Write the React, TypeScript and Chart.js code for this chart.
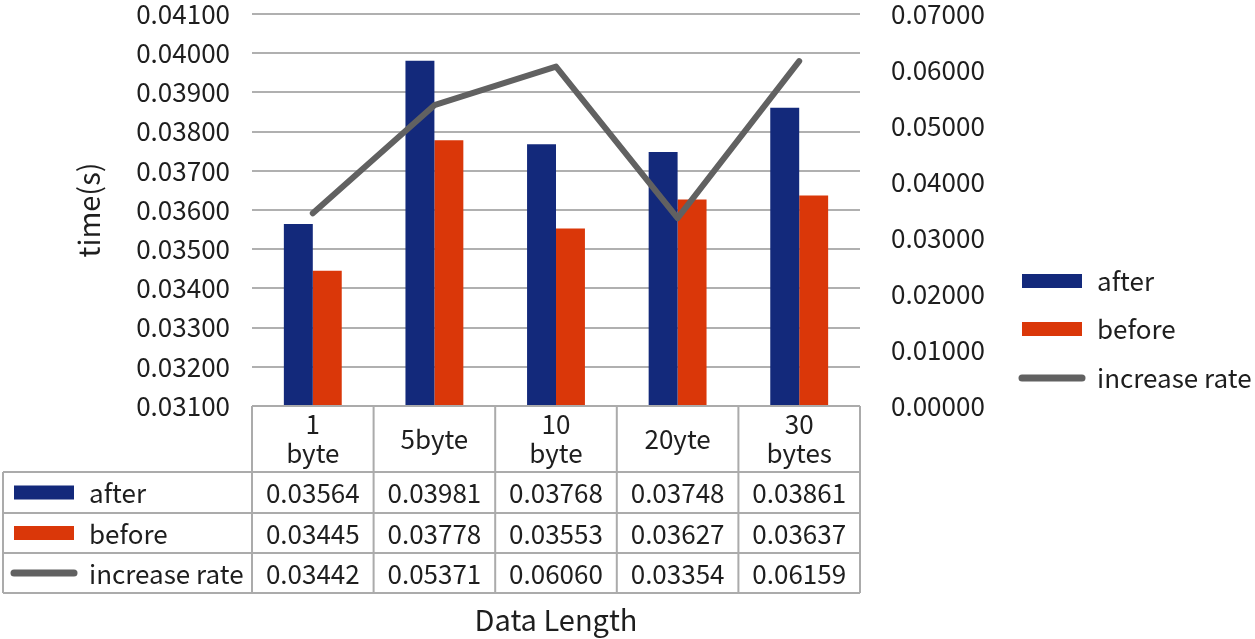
import React, { useEffect, useRef } from 'react';
import { Chart, registerables } from 'chart.js';

Chart.register(...registerables);

// ---- data ----
const categoryLines: string[][] = [['1', 'byte'], ['5byte'], ['10', 'byte'], ['20yte'], ['30', 'bytes']];
const afterValues = [0.03564, 0.03981, 0.03768, 0.03748, 0.03861];
const beforeValues = [0.03445, 0.03778, 0.03553, 0.03627, 0.03637];
const increaseRate = [0.03442, 0.05371, 0.0606, 0.03354, 0.06159];
const leftAxis = { min: 0.031, max: 0.041, step: 0.001 };
const rightAxis = { min: 0, max: 0.07, step: 0.01 };
const seriesNames = ['after', 'before', 'increase rate'];

// ---- style ----
const FONT = "'Noto Sans CJK SC', 'Noto Sans', sans-serif";
const TEXT = '#1e1e1e';
const BLUE = '#13297b';
const ORANGE = '#da3709';
const GRAY_LINE = '#616161';
const GRID = '#b0b0b0';
const TABLE_LINE = '#ababab';
const FS = 26;

const W = 1255;
const H = 639;

const tableLayout = {
  tableLeft: 3,
  headerBottom: 472,
  rowBottoms: [513, 553, 593],
  keyLeft: 14,
  keyRight: 74,
  keyTextX: 89,
  headerLineGap: 29,
};

const legendLayout = {
  keyLeft: 1022,
  keyRight: 1082,
  textX: 1097,
  rowY: [281, 329, 378],
};

function drawKey(ctx: CanvasRenderingContext2D, ds: any, x0: number, x1: number, y: number) {
  ctx.save();
  if (ds.type === 'line') {
    ctx.strokeStyle = ds.borderColor;
    ctx.lineWidth = 7;
    ctx.lineCap = 'round';
    ctx.beginPath();
    ctx.moveTo(x0, y);
    ctx.lineTo(x1, y);
    ctx.stroke();
  } else {
    ctx.fillStyle = ds.backgroundColor;
    ctx.fillRect(x0, y - 7, x1 - x0, 14);
  }
  ctx.restore();
}

const tablePlugin = {
  id: 'dataTable',
  afterDraw(chart: any) {
    const { ctx, chartArea, scales } = chart;
    const xs = scales.x;
    const labels = chart.data.labels as string[][];
    const n = labels.length;
    const colW = (chartArea.right - chartArea.left) / n;
    const top = chartArea.bottom;
    const L = tableLayout;
    const bottoms = L.rowBottoms;
    const last = bottoms[bottoms.length - 1];

    ctx.save();
    ctx.strokeStyle = TABLE_LINE;
    ctx.lineWidth = 2;
    ctx.beginPath();
    ctx.moveTo(chartArea.left, top);
    ctx.lineTo(chartArea.right, top);
    [L.headerBottom, ...bottoms].forEach((y) => {
      ctx.moveTo(L.tableLeft, y);
      ctx.lineTo(chartArea.right, y);
    });
    for (let i = 0; i <= n; i++) {
      const bx = i < n ? xs.getPixelForValue(i) - colW / 2 : xs.getPixelForValue(n - 1) + colW / 2;
      ctx.moveTo(bx, top);
      ctx.lineTo(bx, last);
    }
    ctx.moveTo(L.tableLeft, L.headerBottom);
    ctx.lineTo(L.tableLeft, last);
    ctx.stroke();

    ctx.fillStyle = TEXT;
    ctx.font = `${FS}px ${FONT}`;
    ctx.textAlign = 'center';
    ctx.textBaseline = 'middle';
    const hc = (top + L.headerBottom) / 2;
    labels.forEach((lines, i) => {
      const cx = xs.getPixelForValue(i);
      const start = hc - ((lines.length - 1) * L.headerLineGap) / 2;
      lines.forEach((t, k) => ctx.fillText(t, cx, start + k * L.headerLineGap));
    });
    const rowTops = [L.headerBottom, ...bottoms.slice(0, -1)];
    chart.data.datasets.forEach((ds: any, r: number) => {
      const cy = (rowTops[r] + bottoms[r]) / 2 + 1;
      ctx.textAlign = 'center';
      ds.data.forEach((v: number, i: number) => {
        ctx.fillText(v.toFixed(5), xs.getPixelForValue(i), cy);
      });
      drawKey(ctx, ds, L.keyLeft, L.keyRight, cy - 1);
      ctx.textAlign = 'left';
      ctx.fillText(ds.label, L.keyTextX, cy);
    });

    const G = legendLayout;
    chart.data.datasets.forEach((ds: any, r: number) => {
      const y = G.rowY[r];
      drawKey(ctx, ds, G.keyLeft, G.keyRight, y);
      ctx.textAlign = 'left';
      ctx.fillText(ds.label, G.textX, y);
    });
    ctx.restore();
  },
};

export default function App() {
  const ref = useRef<HTMLCanvasElement | null>(null);

  useEffect(() => {
    if (!ref.current) return;
    Chart.defaults.font.family = FONT;
    Chart.defaults.color = TEXT;
    const chart = new Chart(ref.current, {
      type: 'bar',
      data: {
        labels: categoryLines as any,
        datasets: [
          {
            type: 'bar',
            label: seriesNames[0],
            data: afterValues,
            backgroundColor: BLUE,
            yAxisID: 'y',
            order: 1,
            categoryPercentage: 0.476,
            barPercentage: 1,
          } as any,
          {
            type: 'bar',
            label: seriesNames[1],
            data: beforeValues,
            backgroundColor: ORANGE,
            yAxisID: 'y',
            order: 1,
            categoryPercentage: 0.476,
            barPercentage: 1,
          } as any,
          {
            type: 'line',
            label: seriesNames[2],
            data: increaseRate,
            borderColor: GRAY_LINE,
            backgroundColor: GRAY_LINE,
            borderWidth: 6,
            borderCapStyle: 'round',
            borderJoinStyle: 'round',
            pointRadius: 0,
            tension: 0,
            yAxisID: 'y1',
            order: 0,
          } as any,
        ],
      },
      options: {
        responsive: false,
        animation: false,
        events: [],
        layout: { padding: { left: 0, right: 0, top: 14, bottom: 0 } },
        plugins: { legend: { display: false }, tooltip: { enabled: false } },
        scales: {
          x: {
            type: 'category',
            offset: true,
            ticks: { display: false },
            grid: { display: false },
            border: { display: false },
            title: {
              display: true,
              text: 'Data Length',
              color: TEXT,
              font: { size: 29, family: FONT },
              padding: { top: 0, bottom: 2 },
            },
            afterFit(scale: any) {
              scale.height = 233;
              scale.paddingLeft = 0;
              scale.paddingRight = 0;
            },
          },
          y: {
            type: 'linear',
            position: 'left',
            min: leftAxis.min,
            max: leftAxis.max,
            ticks: {
              stepSize: leftAxis.step,
              padding: 22,
              color: TEXT,
              font: { size: FS, family: FONT, lineHeight: 1 },
              callback: (v: any) => Number(v).toFixed(5),
            },
            grid: { color: GRID, lineWidth: 2, drawTicks: false },
            border: { display: false },
            title: {
              display: true,
              text: 'time(s)',
              color: TEXT,
              font: { size: 29, family: FONT },
              padding: { top: 72, bottom: 0 },
            },
            afterFit(scale: any) {
              scale.width = 252;
              scale.paddingTop = 0;
              scale.paddingBottom = 0;
            },
          },
          y1: {
            type: 'linear',
            position: 'right',
            min: rightAxis.min,
            max: rightAxis.max,
            ticks: {
              stepSize: rightAxis.step,
              padding: 31,
              color: TEXT,
              font: { size: FS, family: FONT, lineHeight: 1 },
              callback: (v: any) => Number(v).toFixed(5),
            },
            grid: { display: false, drawTicks: false },
            border: { display: false },
            afterFit(scale: any) {
              scale.width = W - 860;
              scale.paddingTop = 0;
              scale.paddingBottom = 0;
            },
          },
        },
      } as any,
      plugins: [tablePlugin],
    });
    return () => chart.destroy();
  }, []);

  return (
    <div style={{ position: 'fixed', left: 0, top: 0, width: W, height: H, background: '#fff' }}>
      <canvas ref={ref} width={W} height={H} style={{ display: 'block', width: W, height: H }} />
    </div>
  );
}
